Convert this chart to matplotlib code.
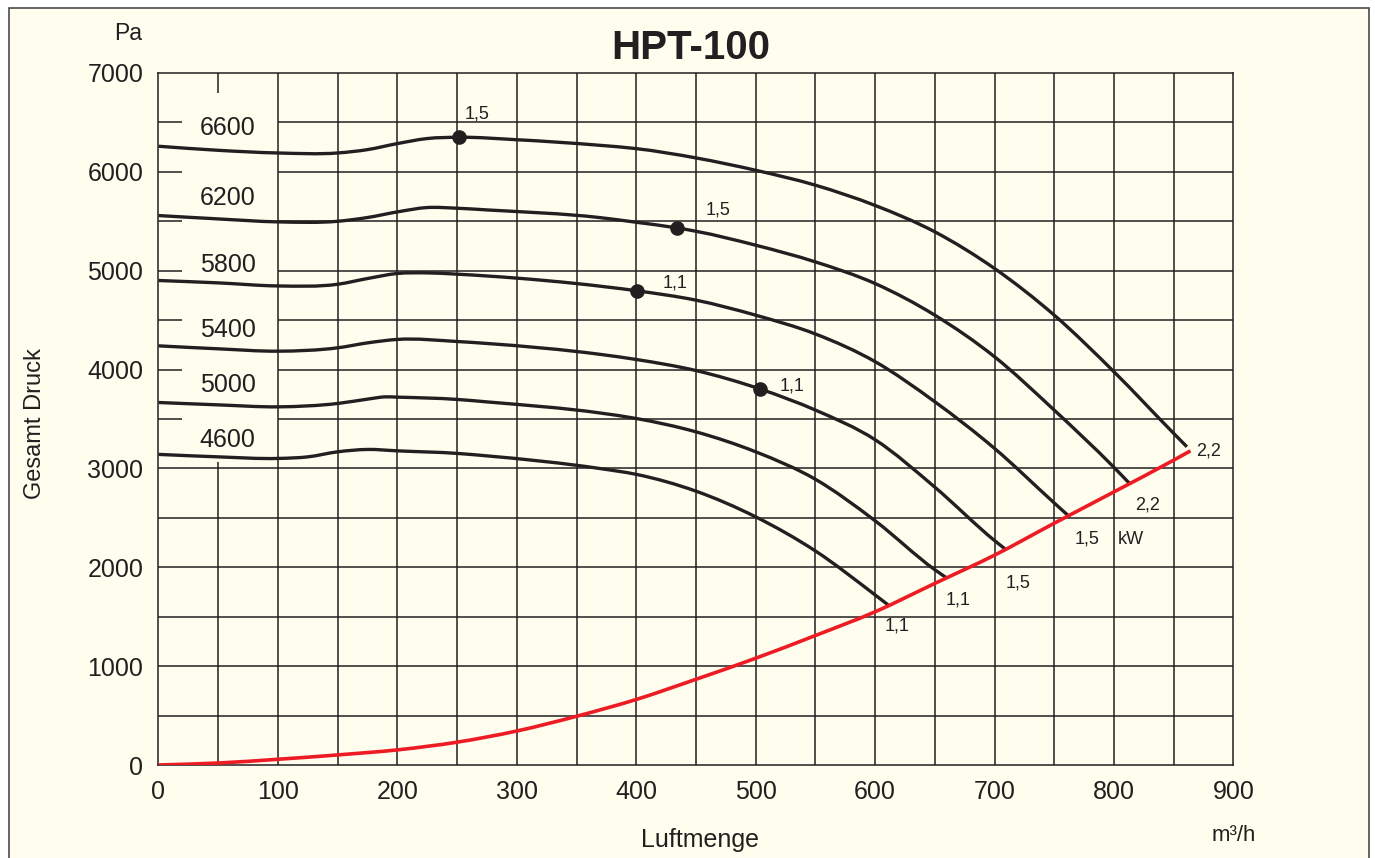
"""HPT-100 fan curve chart (Gesamt Druck vs Luftmenge)"""
import numpy as np, matplotlib
matplotlib.use('Agg')
import matplotlib.pyplot as plt
from matplotlib.patches import Rectangle, PathPatch
from matplotlib.path import Path

plt.rcParams['font.family'] = ['Liberation Sans', 'DejaVu Sans']

CREAM = '#fffdee'; INK = '#231f20'; RED = '#ed1c24'

# ── data ──
x_6600 = [0, 50, 100, 150, 175, 200, 225, 252, 300, 369, 400, 450, 500, 550, 600, 650, 700, 750, 800, 850, 861]
p_6600 = [6259, 6218, 6191, 6191, 6225, 6286, 6337, 6350, 6325, 6269, 6235, 6141, 6016, 5865, 5660, 5393, 5022, 4550, 3977, 3354, 3219]
x_6200 = [0, 50, 100, 150, 175, 200, 225, 250, 275, 369, 400, 434, 450, 500, 550, 600, 650, 700, 750, 800, 813]
p_6200 = [5558, 5524, 5494, 5500, 5538, 5595, 5639, 5632, 5615, 5538, 5490, 5433, 5399, 5258, 5089, 4870, 4550, 4129, 3589, 3010, 2848]
x_5800 = [0, 50, 100, 150, 175, 200, 225, 250, 300, 350, 401, 450, 500, 550, 600, 650, 700, 750, 763]
p_5800 = [4901, 4877, 4846, 4863, 4921, 4972, 4978, 4965, 4925, 4870, 4796, 4702, 4550, 4360, 4080, 3674, 3202, 2650, 2508]
x_5400 = [0, 50, 100, 150, 175, 200, 250, 275, 369, 400, 450, 504, 550, 600, 650, 700, 710]
p_5400 = [4240, 4210, 4186, 4220, 4270, 4305, 4284, 4264, 4155, 4102, 3990, 3802, 3590, 3290, 2810, 2270, 2174]
x_5000 = [0, 50, 100, 150, 175, 190, 200, 250, 275, 369, 400, 450, 500, 550, 600, 650, 660]
p_5000 = [3667, 3643, 3623, 3657, 3701, 3724, 3721, 3698, 3673, 3562, 3505, 3370, 3168, 2890, 2470, 1975, 1891]
x_4600 = [0, 50, 100, 125, 150, 175, 200, 250, 275, 369, 400, 450, 500, 550, 600, 611]
p_4600 = [3142, 3117, 3101, 3117, 3168, 3192, 3178, 3152, 3127, 3000, 2940, 2770, 2510, 2165, 1720, 1618]
x_anl = [0, 50, 100, 150, 200, 250, 300, 350, 400, 450, 500, 550, 600, 650, 700, 750, 800, 850, 864]
p_anl = [0, 20, 58, 102, 153, 231, 344, 493, 663, 867, 1080, 1310, 1550, 1837, 2123, 2446, 2763, 3084, 3178]

rpm_labels = ['6600', '6200', '5800', '5400', '5000', '4600']
rpm_label_y = [6441, 5733, 5056, 4398, 3842, 3291]
curves = [(x_6600, p_6600), (x_6200, p_6200), (x_5800, p_5800), (x_5400, p_5400), (x_5000, p_5000), (x_4600, p_4600)]

# motor change points (kW)
dot_x = [252, 434, 401, 504]
dot_p = [6350, 5433, 4796, 3802]
dot_kw = ['1,5', '1,5', '1,1', '1,1']
dot_lbl_x = [256, 458, 422, 520]
dot_lbl_y = [6588, 5612, 4874, 3837]
end_kw = ['2,2', '2,2', '1,5', '1,5', '1,1', '1,1']
end_lbl_x = [869, 818, 767, 709, 659, 608]
end_lbl_y = [3175, 2629, 2285, 1845, 1668, 1405]

x_ticks = list(range(0, 1000, 100))
y_ticks = list(range(0, 8000, 1000))


def smooth_path(xs, ys):
    # cubic bezier path through the read points, slopes from neighbouring points
    x = np.asarray(xs, float); y = np.asarray(ys, float)
    m = np.gradient(y, x)
    verts, codes = [(x[0], y[0])], [Path.MOVETO]
    for i in range(len(x) - 1):
        h = (x[i+1] - x[i]) / 3
        verts += [(x[i] + h, y[i] + m[i]*h), (x[i+1] - h, y[i+1] - m[i+1]*h), (x[i+1], y[i+1])]
        codes += [Path.CURVE4] * 3
    return Path(verts, codes)


fig = plt.figure(figsize=(13.75, 8.58), dpi=100, facecolor='white')
fig.patches.append(Rectangle((9/1375, -0.05), 1360/1375, 1.05 - 8/858, transform=fig.transFigure,
                             facecolor=CREAM, edgecolor='#4a4a4a', lw=1.2, zorder=-5))
ax = fig.add_axes([0.11527, 0.10839, 0.7818, 0.80653])
ax.set_zorder(2)
ax.set_facecolor(CREAM)
ax.set_xlim(0, 900); ax.set_ylim(0, 7000)

# grid (blank window behind the rpm labels)
gkw = dict(color=INK, lw=1.1, zorder=1)
for gx in np.arange(50, 900, 50):
    if gx == 50:
        ax.vlines(gx, 0, 3065, **gkw); ax.vlines(gx, 6800, 7000, **gkw)
    else:
        ax.vlines(gx, 0, 7000, **gkw)
for gy in np.arange(500, 7000, 500):
    if gy >= 3500:
        ax.hlines(gy, 0, 20, **gkw); ax.hlines(gy, 100, 900, **gkw)
    else:
        ax.hlines(gy, 0, 900, **gkw)
for s in ax.spines.values():
    s.set_color(INK); s.set_linewidth(1.1)

for (cx, cp), lab, ly in zip(curves, rpm_labels, rpm_label_y):
    ax.add_patch(PathPatch(smooth_path(cx, cp), facecolor='none', edgecolor=INK, lw=2.4,
                           capstyle='butt', zorder=3))
    ax.text(58, ly, lab, ha='center', va='center', fontsize=18, color=INK, zorder=4)
ax.add_patch(PathPatch(smooth_path(x_anl, p_anl), facecolor='none', edgecolor=RED, lw=2.6, zorder=4))
ax.plot(dot_x, dot_p, 'o', color=INK, ms=9.5, zorder=5)
for t, lx, ly in zip(dot_kw, dot_lbl_x, dot_lbl_y):
    ax.text(lx, ly, t, ha='left', va='center', fontsize=13, color=INK)
for t, lx, ly in zip(end_kw, end_lbl_x, end_lbl_y):
    ax.text(lx, ly, t, ha='left', va='center', fontsize=13, color=INK)
ax.text(803, 2285, 'kW', ha='left', va='center', fontsize=13, color=INK)

ax.set_xticks(x_ticks); ax.set_yticks(y_ticks)
ax.tick_params(length=0, labelsize=18, labelcolor=INK)
ax.tick_params(axis='y', pad=11); ax.tick_params(axis='x', pad=11)

fig.text(0.502, 0.944, 'HPT-100', ha='center', va='center', fontsize=29, fontweight='bold', color=INK)
fig.text(0.0931, 0.9615, 'Pa', ha='center', va='center', fontsize=16.5, color=INK)
fig.text(0.0255, 0.506, 'Gesamt Druck', ha='center', va='center', rotation=90, fontsize=17, color=INK)
fig.text(0.509, 0.021, 'Luftmenge', ha='center', va='center', fontsize=18, color=INK)
fig.text(0.897, 0.0262, 'm³/h', ha='center', va='center', fontsize=16, color=INK)

plt.savefig('out.png', dpi=100, facecolor='white')
plt.close()
